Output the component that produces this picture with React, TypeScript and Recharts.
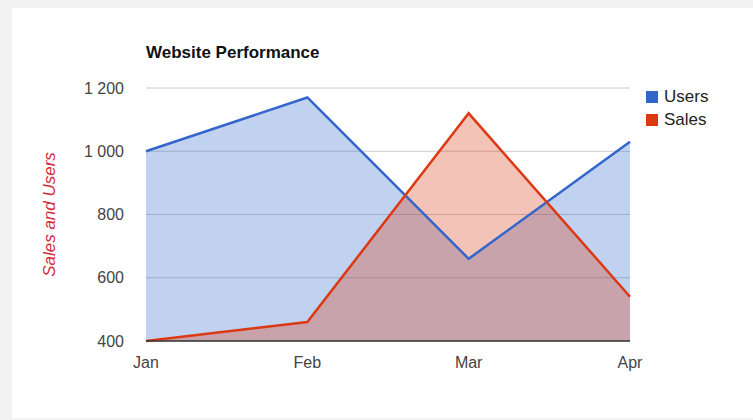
import { Area, CartesianGrid, ComposedChart, Label, Line, XAxis, YAxis } from "recharts";

const months = ["Jan", "Feb", "Mar", "Apr"];
const users = [1000, 1170, 660, 1030];
const sales = [400, 460, 1120, 540];
const yTicks = [400, 600, 800, 1000, 1200];

const seriesList = [
  { key: "Users", color: "#3366cc" },
  { key: "Sales", color: "#dc3912" },
];

const data = months.map((month, i) => ({ month, Users: users[i], Sales: sales[i] }));

const FONT = '"Liberation Sans", Arial, sans-serif';

const fmt = (v: number) => String(v).replace(/\B(?=(\d{3})+(?!\d))/g, " ");

function LegendBox() {
  return (
    <div style={{ position: "absolute", left: 646, top: 85, fontFamily: FONT, fontSize: 17, color: "#222" }}>
      {seriesList.map((s) => (
        <div key={s.key} style={{ display: "flex", alignItems: "center", height: 23 }}>
          <span style={{ width: 12, height: 12, background: s.color, marginRight: 6 }} />
          <span>{s.key}</span>
        </div>
      ))}
    </div>
  );
}

export default function App() {
  return (
    <div style={{ position: "absolute", left: 0, top: 0, width: 753, height: 420, background: "#f2f2f2" }}>
      <div style={{ position: "absolute", left: 12, top: 8, width: 741, height: 410, background: "#fff" }} />
      <div
        style={{
          position: "absolute",
          left: 146,
          top: 44,
          fontFamily: FONT,
          fontWeight: "bold",
          fontSize: 17,
          lineHeight: "17px",
          color: "#111",
        }}
      >
        Website Performance
      </div>
      <div style={{ position: "absolute", left: 0, top: 0 }}>
        <ComposedChart width={753} height={420} data={data} margin={{ top: 88, right: 123, bottom: 49, left: 0 }}>
          <CartesianGrid vertical={false} stroke="#cccccc" />
          <XAxis
            dataKey="month"
            height={30}
            scale="point"
            tickLine={false}
            tickSize={0}
            tickMargin={16}
            axisLine={{ stroke: "#333", strokeWidth: 1.5 }}
            tick={{ fontFamily: FONT, fontSize: 16, fill: "#444" }}
          />
          <YAxis
            width={146}
            domain={[400, 1200]}
            ticks={yTicks}
            tickFormatter={fmt}
            axisLine={false}
            tickLine={false}
            tickSize={0}
            tickMargin={22}
            tick={{ fontFamily: FONT, fontSize: 16, fill: "#444" }}
          >
            <Label
              content={({ viewBox }: any) => {
                const x = viewBox.x + 49.5;
                const y = viewBox.y + viewBox.height / 2;
                return (
                  <text
                    x={x}
                    y={y}
                    transform={`rotate(-90, ${x}, ${y})`}
                    textAnchor="middle"
                    dominantBaseline="central"
                    fontFamily={FONT}
                    fontStyle="italic"
                    fontSize={17}
                    fill="#d42a3a"
                  >
                    Sales and Users
                  </text>
                );
              }}
            />
          </YAxis>
          {seriesList.map((s) => (
            <Area
              key={"a" + s.key}
              type="linear"
              dataKey={s.key}
              stroke="none"
              fill={s.color}
              fillOpacity={0.3}
              dot={false}
              activeDot={false}
              legendType="none"
              isAnimationActive={false}
            />
          ))}
          {seriesList.map((s) => (
            <Line
              key={"l" + s.key}
              type="linear"
              dataKey={s.key}
              stroke={s.color}
              strokeWidth={2.5}
              dot={false}
              activeDot={false}
              isAnimationActive={false}
            />
          ))}
        </ComposedChart>
      </div>
      <LegendBox />
    </div>
  );
}
